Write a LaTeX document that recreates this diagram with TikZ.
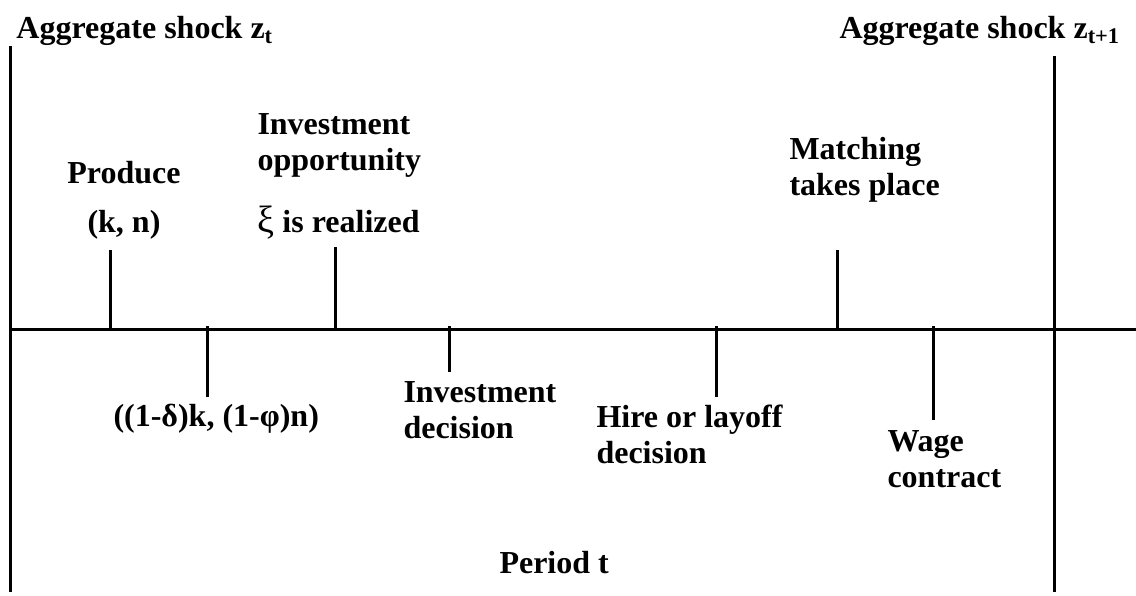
\documentclass[tikz,border=0pt]{standalone}
\usepackage{fontspec}
\setmainfont{Liberation Serif}
\usepackage{tikz}
\tikzset{every picture/.style={x=0.5pt, y=-0.5pt, line width=1.5pt}}
\tikzset{lbl/.style={anchor=base west, inner sep=0pt, align=left,
    font=\fontsize{16}{18}\selectfont\bfseries}}
\newcommand\tickup[3]{\draw (#1,331) coordinate (#3) -- (#1,#2);}
\newcommand\tickdown[3]{\draw (#1,326) coordinate (#3) -- (#1,#2);}

\begin{document}
\begin{tikzpicture}
      \useasboundingbox (0,0) rectangle (1136,595);

      % Period boundaries and the time line
      \draw (10,46) coordinate (tstart) -- (10,592);
      \draw (1054,56) coordinate (tnext) -- (1054,592);
      \draw (10,329) coordinate (lineL) -- (1136,329) coordinate (lineR);

      % Events above the line
      \tickup{110}{250}{produce}
      \tickup{335}{247}{xi}
      \tickup{837}{250}{matching}

      % Events below the line
      \tickdown{207}{397}{depreciate}
      \tickdown{449}{372}{invest}
      \tickdown{716}{397}{hire}
      \tickdown{933}{420}{wage}

      % Labels (a node sits on the baseline of its last line)
      \node[lbl] (shockt) at (15,38) {Aggregate shock z\textsubscript{t}};
      \node[lbl] (shocknext) at (838,38) {Aggregate shock z\textsubscript{t+1}};
      \node[lbl, align=center, anchor=base] (producelbl) at (124,232)
        {Produce\\[6.5pt](k, n)};
      \node[lbl] (xilbl) at (256,232)
        {Investment\\opportunity\\[13pt]{\mdseries\fontsize{19}{18}\selectfont ξ} is realized};
      \node[lbl] (matchlbl) at (788,195) {Matching\\takes place};
      \node[lbl] (deplbl) at (112,426) {((1-δ)k, (1-φ)n)};
      \node[lbl] (investlbl) at (402,438) {Investment\\decision};
      \node[lbl] (hirelbl) at (595,463) {Hire or layoff\\decision};
      \node[lbl] (wagelbl) at (886,487) {Wage\\contract};
      \node[lbl] (period) at (498,573) {Period t};
    \end{tikzpicture}
\end{document}
